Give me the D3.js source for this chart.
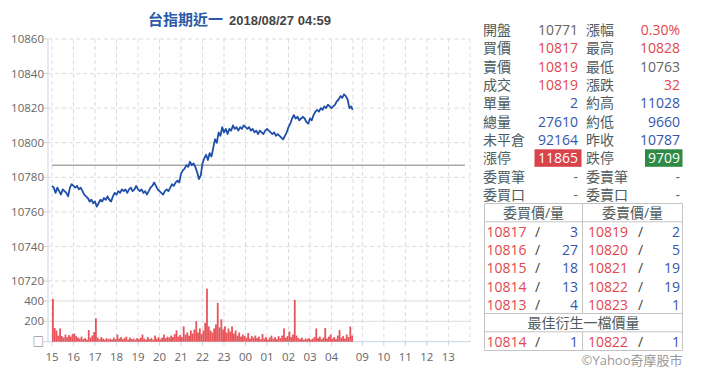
<!DOCTYPE html>
<html>
<head>
<meta charset="utf-8">
<script src="https://cdn.jsdelivr.net/npm/d3@7"></script>
<style>
  html, body { margin: 0; padding: 0; background: #fff; }
  svg { display: block; font-family: "Open Sans", "Noto Sans CJK TC", sans-serif; }
</style>
</head>
<body>
<div id="chart"></div>
<script>
// price sampled every 5 minutes from 15:00, last point is 04:59
const priceStep = 5;
const prices = [
  10775, 10774, 10771, 10774, 10772, 10770, 10773, 10772, 10771, 10769,
  10774, 10776, 10775, 10774, 10775, 10773, 10774, 10772, 10770, 10769,
  10768, 10766, 10767, 10765, 10766, 10763, 10765, 10767, 10766, 10768,
  10767, 10769, 10767, 10766, 10769, 10771, 10770, 10772, 10771, 10773,
  10772, 10773, 10771, 10773, 10774, 10772, 10773, 10775, 10773, 10772,
  10773, 10771, 10772, 10770, 10772, 10774, 10775, 10777, 10775, 10773,
  10772, 10771, 10770, 10772, 10773, 10772, 10774, 10776, 10775, 10777,
  10778, 10777, 10782, 10784, 10785, 10787, 10786, 10789, 10787, 10788,
  10786, 10783, 10779, 10781, 10788, 10791, 10793, 10790, 10794, 10792,
  10797, 10802, 10800, 10806, 10804, 10809, 10806, 10808, 10805, 10808,
  10807, 10810, 10808, 10809, 10807, 10809, 10808, 10810, 10809, 10808,
  10809, 10807, 10808, 10806, 10807, 10805, 10807, 10806, 10805, 10807,
  10808, 10807, 10806, 10805, 10806, 10804, 10805, 10804, 10803, 10802,
  10804, 10806, 10809, 10811, 10814, 10816, 10814, 10815, 10813, 10814,
  10815, 10814, 10812, 10811, 10814, 10813, 10816, 10818, 10819, 10818,
  10820, 10819, 10821, 10820, 10822, 10821, 10820, 10821, 10822, 10824,
  10825, 10827, 10826, 10828, 10827, 10825, 10820, 10821, 10819
];
const lastMinute = 839;

const volumes = [
  420, 135, 110, 60, 130, 55, 40, 70, 45, 65,
  50, 75, 80, 55, 40, 30, 50, 25, 35, 20,
  115, 40, 60, 95, 230, 40, 25, 45, 30, 20,
  35, 25, 30, 20, 40, 25, 70, 30, 45, 25,
  35, 50, 20, 40, 25, 30, 20, 35, 25, 40,
  70, 30, 20, 45, 25, 35, 20, 60, 30, 45,
  25, 40, 70, 35, 50, 40, 60, 45, 75, 110,
  50, 65, 45, 150, 70, 90, 60, 110, 80, 120,
  200, 90, 130, 75, 110, 185, 520, 150, 110, 90,
  130, 170, 380, 140, 220, 120, 150, 90, 130, 100,
  150, 80, 110, 60, 90, 50, 70, 55, 40, 85,
  30, 55, 40, 60, 35, 50, 25, 75, 30, 45,
  20, 40, 60, 30, 45, 25, 55, 35, 60, 130,
  40, 55, 100, 45, 70, 410, 60, 35, 25, 40,
  20, 30, 25, 35, 20, 30, 45, 130, 35, 50,
  25, 40, 135, 30, 50, 70, 30, 45, 25, 60,
  115, 40, 55, 30, 70, 45, 148, 60
];

const prevClose = 10787;
const priceTicks = [10720, 10740, 10760, 10780, 10800, 10820, 10840, 10860];
const volTicks = [0, 200, 400];
const volTickLabels = ["\u25A1", "200", "400"];
// minutes after 15:00 for each hour label
const hourMinutes = [0, 60, 120, 180, 240, 300, 360, 420, 480, 540, 600, 660, 720, 780, 1080, 1140, 1200, 1260, 1320];
const hourLabels = ["15", "16", "17", "18", "19", "20", "21", "22", "23", "00", "01", "02", "03", "04", "09", "10", "11", "12", "13"];
const sessionBreak = 840;

const titleName = "台指期近一";
const titleTime = "2018/08/27 04:59";

const infoLabelsL = ["開盤", "買價", "賣價", "成交", "單量", "總量", "未平倉", "漲停", "委買筆", "委買口"];
const infoValuesL = ["10771", "10817", "10819", "10819", "2", "27610", "92164", "11865", "-", "-"];
const infoColorsL = ["gray", "red", "red", "red", "blue", "blue", "blue", "limitUp", "gray", "gray"];
const infoLabelsR = ["漲幅", "最高", "最低", "漲跌", "約高", "約低", "昨收", "跌停", "委賣筆", "委賣口"];
const infoValuesR = ["0.30%", "10828", "10763", "32", "11028", "9660", "10787", "9709", "-", "-"];
const infoColorsR = ["red", "red", "gray", "red", "blue", "blue", "blue", "limitDown", "gray", "gray"];

const bidPrices = [10817, 10816, 10815, 10814, 10813];
const bidQty = [3, 27, 18, 13, 4];
const askPrices = [10819, 10820, 10821, 10822, 10823];
const askQty = [2, 5, 19, 19, 1];
const bestBid = [10814, 1];
const bestAsk = [10822, 1];

const W = 720, H = 380;
const plotLeft = 48, plotRight = 470, plotTop = 39, priceBottom = 281, volBottom = 341.7;

const colors = {
  gray: "#666", red: "#e2474e", blue: "#3456ad", label: "#4e5c60",
  grid: "#dcdcdc", axis: "#c5d5ea", line: "#1f4fa8", vol: "#e34348"
};

const svg = d3.select("#chart").append("svg")
  .attr("width", W).attr("height", H);

const x = d3.scaleLinear()
  .domain([0, sessionBreak, 1065, 1365])
  .range([52, 353, 357, 464.5]);

const y = d3.scaleLinear()
  .domain([10720, 10860])
  .range([priceBottom, plotTop]);

const yv = d3.scaleLinear()
  .domain([0, 600])
  .range([volBottom, volBottom - 61.2]);

// title
const title = svg.append("text")
  .attr("x", 148).attr("y", 25);
title.append("tspan")
  .style("font-family", "'Noto Sans CJK TC'")
  .style("font-size", "15px").style("font-weight", "bold")
  .attr("fill", "#2b5aa8")
  .text(titleName);
title.append("tspan")
  .attr("dx", 6)
  .style("font-family", "'Liberation Sans'")
  .style("font-size", "13px").style("font-weight", "bold")
  .attr("fill", "#444")
  .text(titleTime);

// grid
const grid = svg.append("g");
priceTicks.forEach(t => {
  grid.append("line")
    .attr("x1", plotLeft).attr("x2", plotRight)
    .attr("y1", y(t)).attr("y2", y(t))
    .attr("stroke", colors.grid).attr("stroke-dasharray", "4,3");
});
volTicks.slice(1).forEach(t => {
  grid.append("line")
    .attr("x1", plotLeft).attr("x2", plotRight)
    .attr("y1", yv(t)).attr("y2", yv(t))
    .attr("stroke", colors.grid);
});
hourMinutes.concat([sessionBreak]).forEach(m => {
  grid.append("line")
    .attr("x1", x(m)).attr("x2", x(m))
    .attr("y1", plotTop).attr("y2", volBottom)
    .attr("stroke", colors.grid).attr("stroke-dasharray", "4,3");
});
grid.append("line")
  .attr("x1", plotRight).attr("x2", plotRight)
  .attr("y1", plotTop).attr("y2", volBottom)
  .attr("stroke", colors.grid).attr("stroke-dasharray", "4,3");

// axes
svg.append("line")
  .attr("x1", plotLeft).attr("x2", plotLeft)
  .attr("y1", plotTop).attr("y2", volBottom)
  .attr("stroke", colors.axis);
svg.append("line")
  .attr("x1", plotLeft).attr("x2", plotRight)
  .attr("y1", volBottom).attr("y2", volBottom)
  .attr("stroke", colors.axis);

priceTicks.forEach(t => {
  svg.append("line")
    .attr("x1", plotLeft - 4).attr("x2", plotLeft)
    .attr("y1", y(t)).attr("y2", y(t))
    .attr("stroke", colors.axis);
  svg.append("text")
    .attr("x", plotLeft - 4).attr("y", y(t)).attr("dy", "0.36em")
    .attr("text-anchor", "end")
    .style("font-size", "11.5px").attr("fill", colors.gray)
    .text(t);
});
volTicks.forEach((t, i) => {
  svg.append("line")
    .attr("x1", plotLeft - 4).attr("x2", plotLeft)
    .attr("y1", yv(t)).attr("y2", yv(t))
    .attr("stroke", colors.axis);
  svg.append("text")
    .attr("x", plotLeft - 4).attr("y", yv(t)).attr("dy", "0.36em")
    .attr("text-anchor", "end")
    .style("font-size", "11.5px").attr("fill", colors.gray)
    .text(volTickLabels[i]);
});
hourMinutes.forEach((m, i) => {
  svg.append("line")
    .attr("x1", x(m)).attr("x2", x(m))
    .attr("y1", volBottom).attr("y2", volBottom + 4)
    .attr("stroke", colors.axis);
  svg.append("text")
    .attr("x", x(m)).attr("y", 361)
    .attr("text-anchor", "middle")
    .style("font-size", "11.5px").attr("fill", colors.gray)
    .text(hourLabels[i]);
});

// previous close
svg.append("line")
  .attr("x1", x(0)).attr("x2", 465)
  .attr("y1", y(prevClose)).attr("y2", y(prevClose))
  .attr("stroke", "#aaa").attr("stroke-width", 1.5);

// volume bars
svg.append("g").selectAll("rect")
  .data(volumes)
  .join("rect")
  .attr("x", (d, i) => x(i * priceStep))
  .attr("y", d => yv(d))
  .attr("width", 1.8)
  .attr("height", d => yv(0) - yv(d))
  .attr("fill", colors.vol)
  .attr("fill-opacity", 0.9);

// price line
const pricePts = prices.map((p, i) => ({
  m: i < prices.length - 1 ? i * priceStep : lastMinute,
  p
}));
svg.append("path")
  .datum(pricePts)
  .attr("d", d3.line().x(d => x(d.m)).y(d => y(d.p)))
  .attr("fill", "none")
  .attr("stroke", colors.line)
  .attr("stroke-width", 1.8)
  .attr("stroke-linejoin", "round");

// info panel
const panel = svg.append("g")
  .style("font-size", "14px");
const rowY = i => 30 + i * 18.33;
const colL = 483, valL = 578, colR = 586, valR = 680;

function drawValue(v, kind, xr, yc, boxX, boxW) {
  if (kind === "limitUp" || kind === "limitDown") {
    panel.append("rect")
      .attr("x", boxX).attr("y", yc - 9)
      .attr("width", boxW).attr("height", 17.5)
      .attr("fill", kind === "limitUp" ? "#d9434b" : "#2e8a44");
    panel.append("text")
      .attr("x", xr).attr("y", yc).attr("dy", "0.36em")
      .attr("text-anchor", "end").attr("fill", "#fff")
      .text(v);
  } else {
    panel.append("text")
      .attr("x", xr).attr("y", yc).attr("dy", "0.36em")
      .attr("text-anchor", "end").attr("fill", colors[kind])
      .text(v);
  }
}

infoLabelsL.forEach((lab, i) => {
  panel.append("text")
    .attr("x", colL).attr("y", rowY(i)).attr("dy", "0.36em")
    .attr("fill", colors.label).text(lab);
  drawValue(infoValuesL[i], infoColorsL[i], valL, rowY(i), 534.5, 47);
  panel.append("text")
    .attr("x", colR).attr("y", rowY(i)).attr("dy", "0.36em")
    .attr("fill", colors.label).text(infoLabelsR[i]);
  drawValue(infoValuesR[i], infoColorsR[i], valR, rowY(i), 645, 37.5);
});

// order book table
const tL = 484.5, tM = 582.5, tR = 682.5;
const tTop = 203.5, hdrBottom = 221.8, bookBottom = 313.5, bestHdrBottom = 331.8, tBottom = 350.5;
const border = "#c4c4c4";
[tTop, hdrBottom, bookBottom, bestHdrBottom, tBottom].forEach(yy => {
  panel.append("line").attr("x1", tL).attr("x2", tR)
    .attr("y1", yy).attr("y2", yy).attr("stroke", border);
});
panel.append("line").attr("x1", tL).attr("x2", tL).attr("y1", tTop).attr("y2", tBottom).attr("stroke", border);
panel.append("line").attr("x1", tR).attr("x2", tR).attr("y1", tTop).attr("y2", tBottom).attr("stroke", border);
panel.append("line").attr("x1", tM).attr("x2", tM).attr("y1", tTop).attr("y2", bookBottom).attr("stroke", border);
panel.append("line").attr("x1", tM).attr("x2", tM).attr("y1", bestHdrBottom).attr("y2", tBottom).attr("stroke", border);

panel.append("text").attr("x", (tL + tM) / 2).attr("y", rowY(10)).attr("dy", "0.36em")
  .attr("text-anchor", "middle").attr("fill", colors.label).text("委買價/量");
panel.append("text").attr("x", (tM + tR) / 2).attr("y", rowY(10)).attr("dy", "0.36em")
  .attr("text-anchor", "middle").attr("fill", colors.label).text("委賣價/量");

function bookRow(yc, bp, bq, ap, aq) {
  panel.append("text").attr("x", 486.5).attr("y", yc).attr("dy", "0.36em")
    .attr("fill", colors.red).text(bp);
  panel.append("text").attr("x", 535).attr("y", yc).attr("dy", "0.36em")
    .attr("fill", "#444").text("/");
  panel.append("text").attr("x", valL).attr("y", yc).attr("dy", "0.36em")
    .attr("text-anchor", "end").attr("fill", colors.blue).text(bq);
  panel.append("text").attr("x", 588).attr("y", yc).attr("dy", "0.36em")
    .attr("fill", colors.red).text(ap);
  panel.append("text").attr("x", 638).attr("y", yc).attr("dy", "0.36em")
    .attr("fill", "#444").text("/");
  panel.append("text").attr("x", valR).attr("y", yc).attr("dy", "0.36em")
    .attr("text-anchor", "end").attr("fill", colors.blue).text(aq);
}
bidPrices.forEach((bp, i) => bookRow(rowY(11 + i), bp, bidQty[i], askPrices[i], askQty[i]));

panel.append("text").attr("x", (tL + tR) / 2).attr("y", rowY(16)).attr("dy", "0.36em")
  .attr("text-anchor", "middle").attr("fill", colors.label).text("最佳衍生一檔價量");
bookRow(rowY(17), bestBid[0], bestBid[1], bestAsk[0], bestAsk[1]);

panel.append("text").attr("x", tR).attr("y", rowY(18)).attr("dy", "0.36em")
  .attr("text-anchor", "end").attr("fill", "#999").style("font-size", "13px")
  .text("©Yahoo奇摩股市");
</script>
</body>
</html>
